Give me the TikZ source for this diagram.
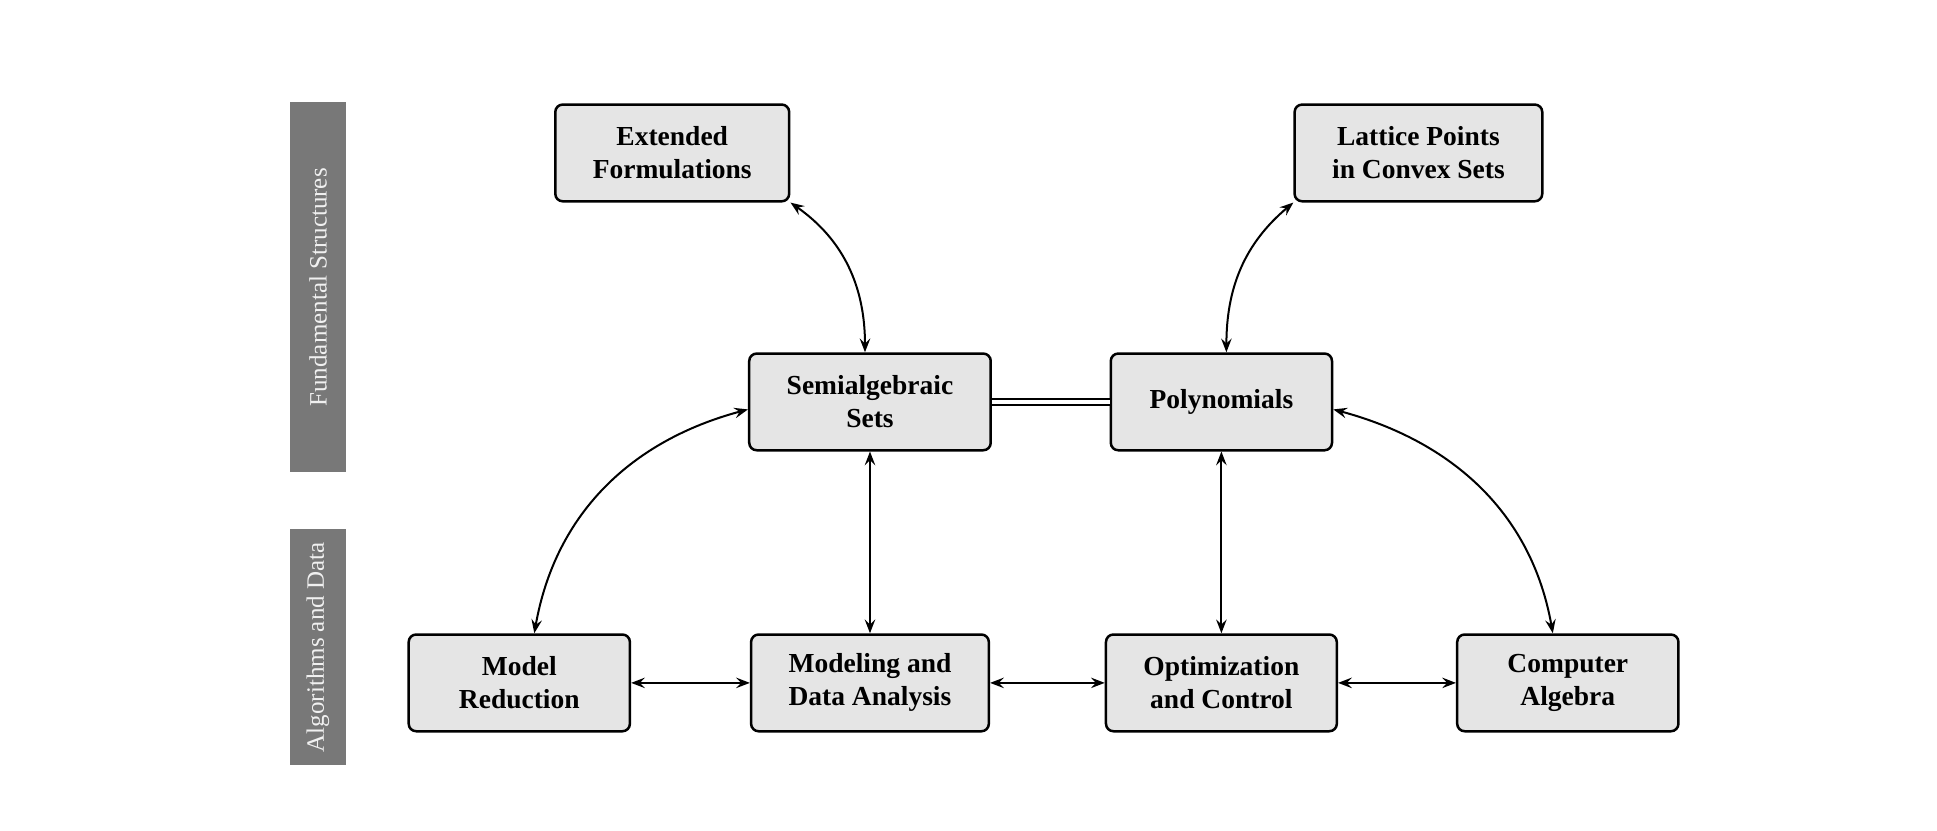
\documentclass[tikz,border=0pt]{standalone}
\usepackage{fontspec}
\setmainfont{Liberation Serif}
\usetikzlibrary{arrows.meta}
\begin{document}
\begin{tikzpicture}[line width=0.8pt,
  topic/.style={draw, line width=1pt, rounded corners=3pt, fill=black!10, align=center,
    font=\fontsize{11}{13.2}\selectfont\bfseries, minimum width=3.11cm, minimum height=1.36cm, inner xsep=15pt},
  band/.style={fill=black!53, text=black!6, rotate=90, minimum height=0.79cm,
    font=\fontsize{10}{12}\selectfont},
  link/.style={{Stealth[length=5.5pt,width=4.2pt,inset=2pt]}-{Stealth[length=5.5pt,width=4.2pt,inset=2pt]}}]
  \useasboundingbox (0,0) rectangle (27.23,11.67);
  \node[band, minimum width=5.2cm] (fund) at (4.47,7.63) {Fundamental Structures};
  \node[band, minimum width=3.32cm] (algo) at (4.47,2.57) {Algorithms and Data};
  \node[topic] (ext) at (9.45,9.52) {Extended\\Formulations};
  \node[topic] (lat) at (19.94,9.52) {Lattice Points\\in Convex Sets};
  \node[topic] (semi) at (12.23,6.02) {Semialgebraic\\Sets};
  \node[topic] (poly) at (17.17,6.02) {Polynomials};
  \node[topic] (mred) at (7.30,2.07) {Model\\Reduction};
  \node[topic] (data) at (12.23,2.07) {Modeling and\\Data Analysis};
  \node[topic] (opt) at (17.17,2.07) {Optimization\\and Control};
  \node[topic] (calg) at (22.04,2.07) {Computer\\Algebra};
  \draw[double, line width=0.9pt, double distance=1.3pt] (semi) -- (poly);
  \draw[link] (ext.south east) to[out=-35, in=90] ([xshift=-2pt]semi.north);
  \draw[link] (lat.south west) to[out=-140, in=90] ([xshift=2pt]poly.north);
  \draw[link] ([yshift=-3pt]semi.west) to[out=195, in=80] ([xshift=6pt]mred.north);
  \draw[link] ([yshift=-3pt]poly.east) to[out=-15, in=100] ([xshift=-6pt]calg.north);
  \draw[link] (semi.south) -- (data.north);
  \draw[link] (poly.south) -- (opt.north);
  \draw[link] (mred.east) -- (data.west);
  \draw[link] (data.east) -- (opt.west);
  \draw[link] (opt.east) -- (calg.west);
\end{tikzpicture}
\end{document}
